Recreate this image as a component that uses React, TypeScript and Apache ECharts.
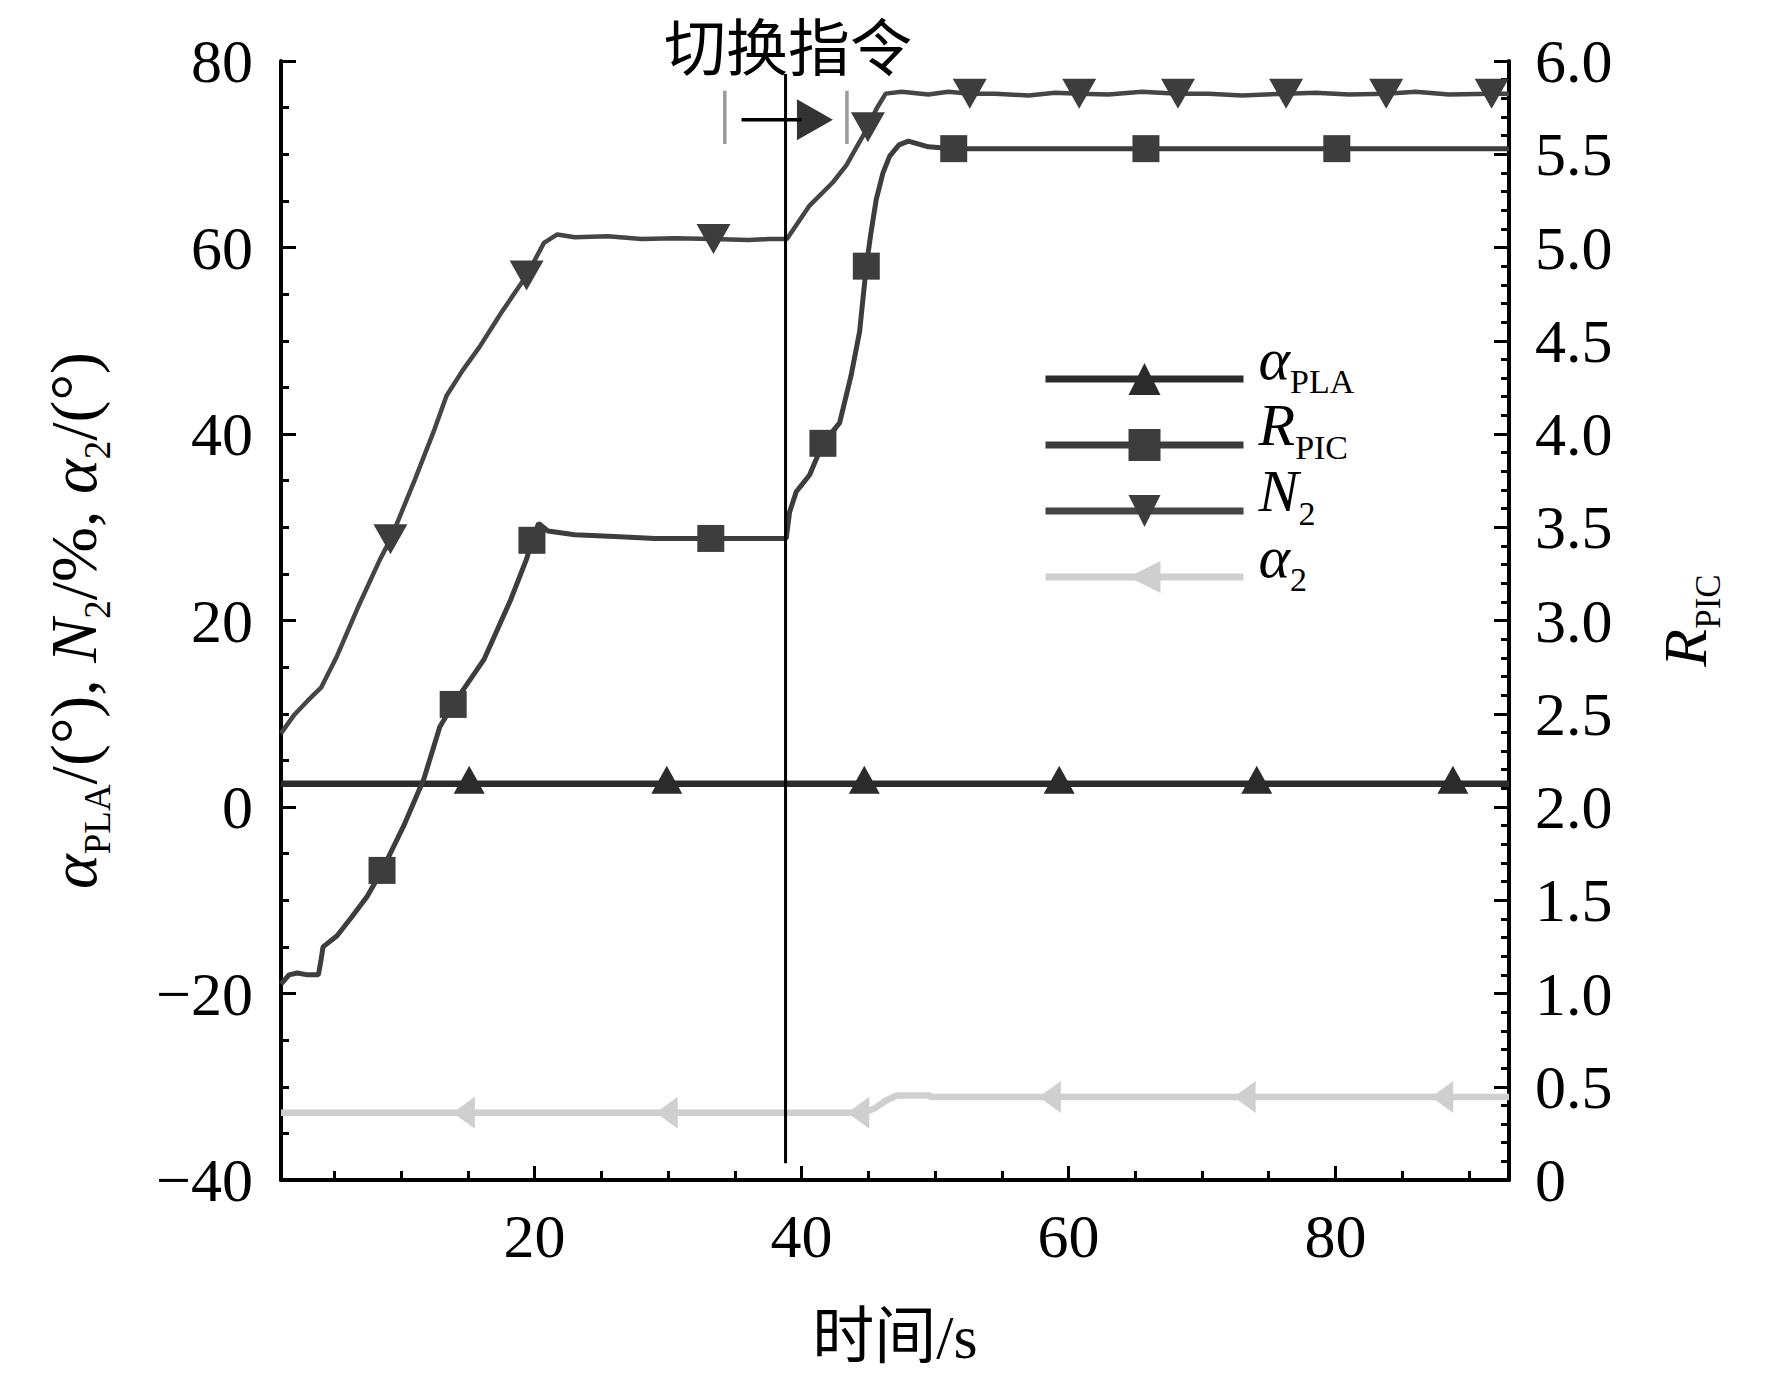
import React, { useEffect, useRef } from "react";
import * as echarts from "echarts";

const SERIF = "'Liberation Serif', 'Times New Roman', 'Noto Sans CJK SC', serif";

// x-axis ticks
const xMajor = [20, 40, 60, 80];
const xMinor = [5, 10, 15, 20, 25, 30, 35, 40, 45, 50, 55, 60, 65, 70, 75, 80, 85, 90];

// N2 (left axis, %)
const n2Line = [
  [1.0, 7.9], [2.0, 9.9], [3.0, 11.4], [4.0, 12.8], [5.2, 16.2], [6.7, 21.2], [8.4, 26.5],
  [11.0, 35.0], [12.5, 40.5], [13.4, 44.1], [14.6, 46.8], [15.9, 49.4], [17.5, 53.0],
  [20.7, 60.5], [21.7, 61.4], [23.0, 61.1], [25.5, 61.2], [28.0, 60.9], [30.5, 61.0],
  [36.0, 60.8], [37.5, 60.9], [38.9, 60.9], [40.6, 64.5], [42.35, 67.0], [43.35, 68.8],
  [45.6, 74.85], [46.3, 76.5], [47.5, 76.7], [49.5, 76.4], [51.0, 76.7], [54.5, 76.5],
  [57.0, 76.3], [59.0, 76.6], [63.0, 76.4], [65.5, 76.7], [70.5, 76.5], [73.0, 76.3],
  [78.5, 76.6], [81.0, 76.4], [86.0, 76.7], [88.5, 76.4], [93.0, 76.5],
];
const n2Marks = [
  [9.2, 28.7], [19.4, 57.0], [33.4, 60.9], [44.97, 72.9], [52.6, 76.5], [60.8, 76.5],
  [68.2, 76.5], [76.3, 76.5], [83.8, 76.5], [91.7, 76.5],
];

// R_PIC (right axis)
const rpicLine = [
  [1.0, 1.05], [1.6, 1.10], [2.2, 1.11], [3.0, 1.10], [3.8, 1.10], [4.0, 1.18], [4.15, 1.25],
  [5.2, 1.31], [6.3, 1.41], [7.45, 1.52], [10.2, 1.90], [11.7, 2.15], [12.9, 2.43],
  [16.2, 2.79], [18.2, 3.11], [19.4, 3.33], [20.3, 3.52], [21.0, 3.48], [23.0, 3.46],
  [26.0, 3.45], [29.0, 3.44], [36.0, 3.44], [38.85, 3.44], [39.1, 3.58], [39.6, 3.69],
  [40.6, 3.78], [42.85, 4.06], [43.7, 4.31], [44.35, 4.55], [45.2, 5.08], [45.6, 5.26],
  [46.1, 5.40], [46.6, 5.49], [47.3, 5.55], [48.0, 5.57], [49.5, 5.54], [55.0, 5.53],
  [70.0, 5.53], [85.0, 5.53], [93.0, 5.53],
];
const rpicMarks = [
  [8.57, 1.66], [13.9, 2.55], [19.8, 3.43], [33.2, 3.44], [41.6, 3.95], [44.85, 4.9],
  [51.4, 5.53], [65.8, 5.53], [80.1, 5.53],
];

// alpha_PLA (left axis)
const aplaLine = [[1.0, 2.5], [93.0, 2.5]];
const aplaMarks = [[15.1, 2.5], [29.9, 2.5], [44.7, 2.5], [59.3, 2.5], [74.1, 2.5], [88.8, 2.5]];

// alpha_2 (left axis)
const a2Line = [
  [1.0, -32.8], [44.6, -32.8], [45.5, -32.3], [46.3, -31.5], [47.1, -30.95], [49.6, -30.95],
  [49.7, -31.1], [93.0, -31.1],
];
const a2Marks = [[14.7, -32.8], [29.9, -32.8], [44.25, -32.8], [58.6, -31.1], [73.2, -31.1], [88.0, -31.1]];

// switch-command annotation (left axis units)
const switchLine = [[38.8, -38.2], [38.8, 78.6]];
const bracketLeft = [[34.25, 71.1], [34.25, 76.8]];
const bracketRight = [[43.4, 71.1], [43.4, 76.8]];
const arrowShaft = [[35.5, 73.7], [40.0, 73.7]];
const arrowHead = [[41.0, 73.7]];

const seriesNames = ["αPLA", "RPIC", "N2", "α2"];
const legendLabels: Record<string, string> = {
  "αPLA": "{p| }{a|α}{s|PLA}",
  "RPIC": "{p| }{a|R}{s|PIC}",
  "N2": "{p| }{a|N}{s|2}",
  "α2": "{p| }{a|α}{s|2}",
};

function makeRich(main: number, sub: number, drop: number) {
  return {
    a: { fontFamily: SERIF, fontStyle: "italic", fontSize: main, lineHeight: main, verticalAlign: "top", color: "#000" },
    n: { fontFamily: SERIF, fontSize: main, lineHeight: main, verticalAlign: "top", color: "#000" },
    s: { fontFamily: SERIF, fontSize: sub, lineHeight: sub, padding: [drop, 0, 0, 0], verticalAlign: "top", color: "#000" },
    p: { fontFamily: SERIF, fontSize: 2, width: 10, lineHeight: 100, verticalAlign: "top", color: "#000" },
  };
}

function build(line: number[][], marks: number[][]) {
  const pts: any[] = [
    ...line.map((p) => ({ value: p, symbol: "none" })),
    ...marks.map((p) => ({ value: p })),
  ];
  pts.sort((a, b) => a.value[0] - b.value[0]);
  return pts;
}

const plainLine = (data: number[][], color: string, width: number, z = 3) => ({
  type: "line",
  xAxisIndex: 0,
  yAxisIndex: 0,
  data,
  symbol: "none",
  silent: true,
  z,
  lineStyle: { color, width },
});

export default function App() {
  const ref = useRef<HTMLDivElement>(null);
  useEffect(() => {
    if (!ref.current) return;
    const chart = echarts.init(ref.current, null, { renderer: "svg" });
    const axisRich = makeRich(66, 37, 39);
    const rightRich = makeRich(62, 35, 37);
    const legendRich = makeRich(60, 34, 36);
    const option: any = {
      animation: false,
      backgroundColor: "#fff",
      grid: { left: 281, top: 61, width: 1228, height: 1119, containLabel: false, outerBoundsMode: "none" },
      legend: {
        data: seriesNames,
        orient: "vertical",
        left: 1042,
        top: 329,
        itemWidth: 198,
        itemHeight: 40,
        itemGap: -4,
        padding: 0,
        selectedMode: false,
        lineStyle: { width: 7 },
        formatter: (n: string) => legendLabels[n],
        textStyle: { rich: legendRich },
      },
      graphic: [
        {
          type: "text",
          x: 788,
          y: 44,
          style: {
            text: "切换指令",
            fontFamily: "'Noto Sans CJK SC', sans-serif",
            fontSize: 62,
            lineHeight: 62,
            fill: "#000",
            align: "center",
            verticalAlign: "middle",
          },
        },
      ],
      xAxis: [
        {
          type: "value",
          min: 1,
          max: 93,
          position: "bottom",
          name: "时间/s",
          nameLocation: "middle",
          nameGap: 126,
          nameMoveOverlap: false,
          nameTextStyle: { fontFamily: SERIF, fontSize: 62, color: "#000" },
          axisLine: { show: true, onZero: false, lineStyle: { color: "#000", width: 4 } },
          axisTick: { show: true, inside: true, length: 14, customValues: xMajor, lineStyle: { color: "#000", width: 3 } },
          axisLabel: { customValues: xMajor, fontFamily: SERIF, fontSize: 62, color: "#000", margin: 25 },
          splitLine: { show: false },
        },
        {
          type: "value",
          min: 1,
          max: 93,
          position: "bottom",
          axisLine: { show: false, onZero: false },
          axisTick: { show: true, inside: true, length: 9, customValues: xMinor, lineStyle: { color: "#000", width: 3 } },
          axisLabel: { show: false },
          splitLine: { show: false },
        },
      ],
      yAxis: [
        {
          type: "value",
          min: -40,
          max: 80,
          interval: 20,
          position: "left",
          name: "{a|α}{s|PLA}{n|/(°), }{a|N}{s|2}{n|/%, }{a|α}{s|2}{n|/(°)}",
          nameLocation: "middle",
          nameRotate: 90,
          nameGap: 175,
          nameMoveOverlap: false,
          nameTextStyle: { rich: axisRich },
          axisLine: { show: true, onZero: false, lineStyle: { color: "#000", width: 4 } },
          axisTick: { show: true, inside: true, length: 15, lineStyle: { color: "#000", width: 3 } },
          minorTick: { show: true, splitNumber: 4, length: 8, lineStyle: { color: "#000", width: 3 } },
          axisLabel: {
            fontFamily: SERIF,
            fontSize: 62,
            color: "#000",
            margin: 28,
            formatter: (v: number) => (v < 0 ? "\u2212" + Math.abs(v) : String(v)),
          },
          splitLine: { show: false },
          minorSplitLine: { show: false },
        },
        {
          type: "value",
          min: 0,
          max: 6,
          interval: 0.5,
          position: "right",
          name: "{a|R}{s|PIC}",
          nameLocation: "middle",
          nameRotate: 90,
          nameGap: 145,
          nameMoveOverlap: false,
          nameTextStyle: { rich: rightRich },
          axisLine: { show: true, onZero: false, lineStyle: { color: "#000", width: 4 } },
          axisTick: { show: true, inside: true, length: 15, lineStyle: { color: "#000", width: 3 } },
          minorTick: { show: true, splitNumber: 5, length: 8, lineStyle: { color: "#000", width: 3 } },
          axisLabel: {
            fontFamily: SERIF,
            fontSize: 62,
            color: "#000",
            margin: 26,
            formatter: (v: number) => (v === 0 ? "0" : v.toFixed(1)),
          },
          splitLine: { show: false },
          minorSplitLine: { show: false },
        },
      ],
      series: [
        {
          name: "αPLA",
          type: "line",
          xAxisIndex: 0,
          yAxisIndex: 0,
          data: build(aplaLine, aplaMarks),
          symbol: "triangle",
          symbolSize: [31, 28],
          symbolOffset: [0, -4],
          lineStyle: { color: "#2b2b2b", width: 6.5 },
          itemStyle: { color: "#2b2b2b" },
          z: 2,
        },
        {
          name: "RPIC",
          type: "line",
          xAxisIndex: 0,
          yAxisIndex: 1,
          data: build(rpicLine, rpicMarks),
          symbol: "rect",
          symbolSize: 27,
          lineStyle: { color: "#3d3d3d", width: 5 },
          itemStyle: { color: "#3d3d3d" },
          z: 2,
        },
        {
          name: "N2",
          type: "line",
          xAxisIndex: 0,
          yAxisIndex: 0,
          data: build(n2Line, n2Marks),
          symbol: "triangle",
          symbolRotate: 180,
          symbolSize: [34, 30],
          lineStyle: { color: "#454545", width: 4.5 },
          itemStyle: { color: "#3d3d3d" },
          z: 2,
        },
        {
          name: "α2",
          type: "line",
          xAxisIndex: 0,
          yAxisIndex: 0,
          data: build(a2Line, a2Marks),
          symbol: "triangle",
          symbolRotate: 90,
          symbolSize: [32, 22],
          lineStyle: { color: "#cfcfcf", width: 6.5 },
          itemStyle: { color: "#cfcfcf" },
          z: 2,
        },
        plainLine(switchLine, "#000", 3, 4),
        plainLine(bracketLeft, "#9a9a9a", 3.5, 4),
        plainLine(bracketRight, "#9a9a9a", 3.5, 4),
        plainLine(arrowShaft, "#000", 3.5, 4),
        {
          type: "scatter",
          xAxisIndex: 0,
          yAxisIndex: 0,
          data: arrowHead,
          symbol: "triangle",
          symbolRotate: -90,
          symbolSize: [41, 36],
          itemStyle: { color: "#000" },
          silent: true,
          z: 4,
        },
      ],
    };
    chart.setOption(option);
    return () => chart.dispose();
  }, []);
  return <div ref={ref} style={{ position: "fixed", left: 0, top: 0, width: 1772, height: 1381 }} />;
}
